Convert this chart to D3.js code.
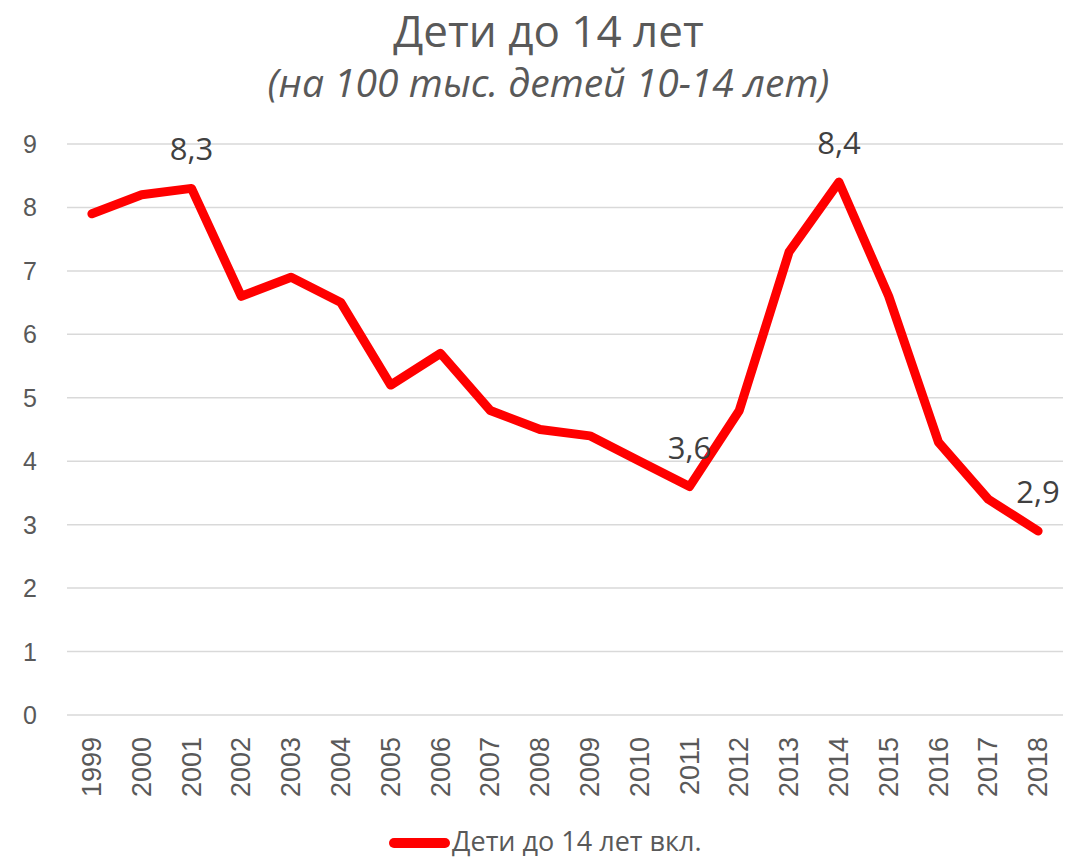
<!DOCTYPE html>
<html>
<head>
<meta charset="utf-8">
<script src="https://cdn.jsdelivr.net/npm/d3@7"></script>
<style>
  body { margin: 0; background: #fff; }
  text { fill: #595959; }
</style>
</head>
<body>
<script>
var years = ['1999', '2000', '2001', '2002', '2003', '2004', '2005', '2006', '2007', '2008',
    '2009', '2010', '2011', '2012', '2013', '2014', '2015', '2016', '2017', '2018']
var values = [7.9, 8.2, 8.3, 6.6, 6.9, 6.5, 5.2, 5.7, 4.8, 4.5,
    4.4, 4.0, 3.6, 4.8, 7.3, 8.4, 6.6, 4.3, 3.4, 2.9]
var labelled = ['2001', '2011', '2014', '2018']
var yTicks = [0, 1, 2, 3, 4, 5, 6, 7, 8, 9]
var seriesName = 'Дети до 14 лет вкл.'

var width = 1081
var height = 858
var margin = { top: 144, right: 18, bottom: 143, left: 67 }

var svg = d3.select('body')
    .append('svg')
    .attr('width', width)
    .attr('height', height)

var x = d3.scaleBand()
    .domain(years)
    .range([margin.left, width - margin.right])

var y = d3.scaleLinear()
    .domain([0, 9])
    .range([height - margin.bottom, margin.top])

var cx = function (d) { return x(d) + x.bandwidth() / 2 }

// gridlines
svg.append('g')
    .selectAll('line')
    .data(yTicks)
    .enter().append('line')
    .attr('x1', margin.left)
    .attr('x2', width - margin.right)
    .attr('y1', function (d) { return y(d) })
    .attr('y2', function (d) { return y(d) })
    .attr('stroke', '#d9d9d9')
    .attr('stroke-width', 1.5)

svg.append('g')
    .selectAll('text')
    .data(yTicks)
    .enter().append('text')
    .attr('x', 37)
    .attr('y', function (d) { return y(d) })
    .attr('dy', '0.36em')
    .attr('text-anchor', 'end')
    .style('font', '25px "Liberation Sans", Arial, sans-serif')
    .text(function (d) { return d })

svg.append('g')
    .selectAll('text')
    .data(years)
    .enter().append('text')
    .attr('transform', function (d) {
        return 'translate(' + (cx(d) + 9) + ',737) rotate(-90)'
    })
    .attr('text-anchor', 'end')
    .style('font', '27px "Liberation Sans", Arial, sans-serif')
    .text(function (d) { return d })

var line = d3.line()
    .x(function (d, i) { return cx(years[i]) })
    .y(function (d) { return y(d) })

svg.append('path')
    .datum(values)
    .attr('d', line)
    .attr('fill', 'none')
    .attr('stroke', '#ff0000')
    .attr('stroke-width', 9)
    .attr('stroke-linejoin', 'round')
    .attr('stroke-linecap', 'round')

var fmt = function (v) { return d3.format('.1f')(v).replace('.', ',') }

svg.append('g')
    .selectAll('text')
    .data(labelled)
    .enter().append('text')
    .attr('x', function (d) { return cx(d) })
    .attr('y', function (d) { return y(values[years.indexOf(d)]) - 28 })
    .attr('text-anchor', 'middle')
    .style('font', '31px "Open Sans", sans-serif')
    .style('fill', '#404040')
    .text(function (d) { return fmt(values[years.indexOf(d)]) })

// title
svg.append('text')
    .attr('x', width / 2 + 8)
    .attr('y', 47)
    .attr('text-anchor', 'middle')
    .style('font', '44px "Open Sans", sans-serif')
    .text('Дети до 14 лет')

svg.append('text')
    .attr('x', width / 2 + 8)
    .attr('y', 97)
    .attr('text-anchor', 'middle')
    .style('font', 'italic 39px "Open Sans", sans-serif')
    .text('(на 100 тыс. детей 10-14 лет)')

// legend
var legend = svg.append('g').attr('transform', 'translate(389,843)')
legend.append('line')
    .attr('x1', 5).attr('x2', 56)
    .attr('stroke', '#ff0000')
    .attr('stroke-width', 10)
    .attr('stroke-linecap', 'round')
legend.append('text')
    .attr('x', 63)
    .attr('y', 8)
    .style('font', '27px "Open Sans", sans-serif')
    .text(seriesName)
</script>
</body>
</html>
